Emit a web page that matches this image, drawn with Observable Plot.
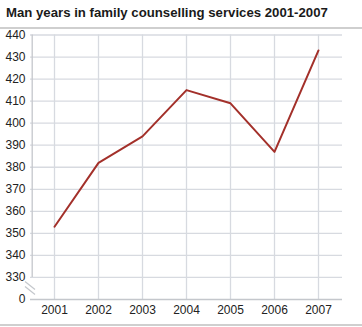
<!DOCTYPE html>
<html>
<head>
<meta charset="utf-8">
<script src="https://cdn.jsdelivr.net/npm/d3@7"></script>
<script src="https://cdn.jsdelivr.net/npm/@observablehq/plot@0.6"></script>
<style>
  html, body { margin: 0; padding: 0; background: #fff; }
  #wrap { position: relative; width: 362px; height: 327px; overflow: hidden; font-family: "Liberation Sans", Arial, sans-serif; }
  #title { position: absolute; left: 6px; top: 5px; font-weight: bold; font-size: 13.2px; color: #1a1a1a; white-space: nowrap; }
  #rule1 { position: absolute; left: 0; top: 27px; width: 362px; height: 2px; background: #cfcfcf; }
  #chart { position: absolute; left: 0; top: 29px; }
  #chart svg text { font-size: 12px; fill: #222; }
  #rule2 { position: absolute; left: 0; top: 324px; width: 362px; height: 2px; background: #cfcfcf; }
</style>
</head>
<body>
<div id="wrap">
  <div id="title">Man years in family counselling services 2001-2007</div>
  <div id="rule1"></div>
  <div id="chart"></div>
  <div id="rule2"></div>
</div>
<script>
const years = ["2001", "2002", "2003", "2004", "2005", "2006", "2007"];
const manYears = [353, 382, 394, 415, 409, 387, 433];
// the axis is broken: the bottom tick (drawn one step below 330) is labelled 0
const axisBase = 320;
const yTicks = [320, 330, 340, 350, 360, 370, 380, 390, 400, 410, 420, 430, 440];
const yTickLabels = ["0", "330", "340", "350", "360", "370", "380", "390", "400", "410", "420", "430", "440"];
const gridTicks = [330, 340, 350, 360, 370, 380, 390, 400, 410, 420, 430, 440];

const data = years.map((y, i) => ({year: y, value: manYears[i]}));

const gridColor = "#d7dae0";
const axisColor = "#c4c7cc";

const breakMark = (index, scales, values, dimensions) => {
  const g = d3.create("svg:g");
  const x0 = dimensions.marginLeft;
  const yMid = scales.y(325);
  for (const off of [-2.5, 2.5]) {
    g.append("line")
      .attr("x1", x0 - 5).attr("y1", yMid - 4 + off)
      .attr("x2", x0 + 5).attr("y2", yMid + 4 + off)
      .attr("stroke", axisColor).attr("stroke-width", 1.2);
  }
  return g.node();
};

const chart = Plot.plot({
  width: 362,
  height: 295,
  marginTop: 5.5,
  marginBottom: 25,
  marginLeft: 30,
  marginRight: 20,
  style: {fontFamily: "'Liberation Sans', Arial, sans-serif", fontSize: "12px", color: "#222", background: "transparent"},
  x: {type: "point", domain: years, padding: 0.5, tickSize: 0, tickPadding: 6, label: null},
  y: {domain: [axisBase, 440], ticks: yTicks, tickFormat: d => yTickLabels[yTicks.indexOf(d)], tickSize: 0, tickPadding: 5, label: null},
  marks: [
    Plot.ruleY(gridTicks, {stroke: gridColor, strokeWidth: 1.3}),
    Plot.ruleX(years, {stroke: gridColor, strokeWidth: 1.3}),
    Plot.ruleY([axisBase], {stroke: axisColor, strokeWidth: 1.3}),
    Plot.ruleX([years[0]], {y1: 330, y2: 440, dx: -22.3, stroke: axisColor, strokeWidth: 1.3}),
    breakMark,
    Plot.line(data, {x: "year", y: "value", stroke: "#a3302a", strokeWidth: 2})
  ]
});
document.getElementById("chart").appendChild(chart);
</script>
</body>
</html>
